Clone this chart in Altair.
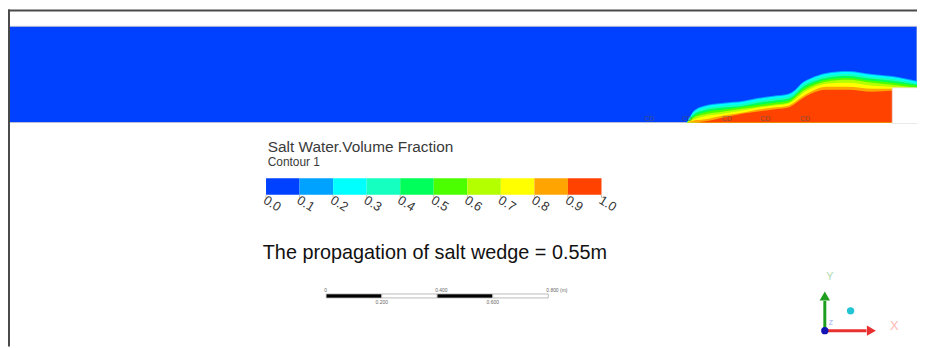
import altair as alt
import pandas as pd

# ------------------------------------------------------------------ data
band_ids = [0, 1, 2, 3, 4, 5, 6, 7, 8, 9]
band_colors = ["#0040ff", "#00a2ff", "#00ffff", "#14ffc0", "#00ff5a",
               "#4cff00", "#b4ff00", "#ffff00", "#ffa400", "#ff4200"]
level_values = [0.0, 0.1, 0.2, 0.3, 0.4, 0.5, 0.6, 0.7, 0.8, 0.9, 1.0]
level_labels = ["0.0", "0.1", "0.2", "0.3", "0.4", "0.5",
                "0.6", "0.7", "0.8", "0.9", "1.0"]

legend_title = "Salt Water.Volume Fraction"
legend_sub = "Contour 1"
caption = "The propagation of salt wedge = 0.55m"

# tank geometry (grid units)
tank_length = 920
tank_depth = 97
notch_x = [895, 920]
notch_h = [0, 35]

# salt wedge contour heights along the tank (one list per contour level)
wedge_x = [688, 695, 705, 725, 745, 760, 775, 790, 797, 804, 813, 828, 850, 875, 895, 920]
wedge_h = {
    1: [0, 12, 17, 20, 22, 25, 27, 29, 33, 40, 45, 50, 52, 49, 47, 42],
    2: [0, 11, 16, 19, 21, 24, 26, 28, 32, 39, 44, 49, 51, 48, 46, 41],
    3: [0, 9, 14, 17, 19, 22, 24, 26, 30, 37, 42, 47, 49, 46, 44, 39],
    4: [0, 8, 12, 15, 17, 20, 22, 24, 28, 35, 40, 45, 47, 44, 42, 38],
    5: [0, 6, 10, 13, 16, 18, 20, 22, 27, 33, 38, 43, 45, 42, 40, 37],
    6: [0, 5, 8, 11, 14, 16, 18, 20, 25, 31, 36, 41, 43, 40, 38, 35],
    7: [0, 3, 6, 9, 12, 15, 17, 19, 23, 29, 34, 39, 40, 37, 36, 34],
    8: [0, 2, 3, 7, 10, 13, 15, 17, 21, 26, 31, 36, 36, 34, 34, 32],
    9: [0, 0, 1, 5, 9, 11, 13, 15, 19, 24, 29, 33, 33, 31, 32, 30],
}

probe_x = [650, 688, 728, 767, 807]
probe_h = [3.5, 3.5, 3.5, 3.5, 3.5]

# scale bar (m)
sb_edges = [0.0, 0.2, 0.4, 0.6, 0.8]
sb_fill = ["#000000", "#ffffff", "#000000", "#ffffff"]
sb_top_pos = [0.0, 0.4, 0.8]
sb_top_lab = ["0", "0.400", "0.800 (m)"]
sb_bot_pos = [0.2, 0.6]
sb_bot_lab = ["0.200", "0.600"]

# ------------------------------------------------------------------ scales
FONT = "Liberation Sans"
COLOR = alt.Scale(domain=band_ids, range=band_colors)
X_TANK = alt.Scale(domain=[0, tank_length], range=[-3, 917])
Y_TANK = alt.Scale(domain=[0, tank_depth], range=[114, 17])
X_CB = alt.Scale(domain=[0, 1], range=[260.3, 598.7])
X_CB_LAB = alt.Scale(domain=[0, 1], range=[266.5, 604.9])
X_SB = alt.Scale(domain=[0, 0.8], range=[321, 545])

one = pd.DataFrame({"v": [0]})
layers = []

# tank (fresh water background)
tank_df = pd.DataFrame({"x0": [0], "x1": [tank_length], "y0": [0],
                        "y1": [tank_depth], "band": [0]})
layers.append(alt.Chart(tank_df).mark_rect(stroke="#b8bed6", strokeWidth=1).encode(
    x=alt.X("x0:Q", scale=X_TANK, axis=None), x2="x1:Q",
    y=alt.Y("y0:Q", scale=Y_TANK, axis=None), y2="y1:Q",
    color=alt.Color("band:O", scale=COLOR, legend=None)))

# salt wedge contour bands
for k in range(1, 10):
    df = pd.DataFrame({"x": wedge_x, "h": wedge_h[k], "band": [k] * len(wedge_x)})
    layers.append(alt.Chart(df).mark_area(interpolate="monotone").encode(
        x=alt.X("x:Q", scale=X_TANK, axis=None),
        y=alt.Y("h:Q", scale=Y_TANK, axis=None, stack=None),
        color=alt.Color("band:O", scale=COLOR, legend=None)))

# step (outside domain)
notch_df = pd.DataFrame({"x0": [notch_x[0]], "x1": [notch_x[1] + 5],
                         "y0": [notch_h[0] - 1], "y1": [notch_h[1]]})
layers.append(alt.Chart(notch_df).mark_rect(color="white", stroke="#d8d8d8", strokeWidth=0.6).encode(
    x=alt.X("x0:Q", scale=X_TANK, axis=None), x2="x1:Q",
    y=alt.Y("y0:Q", scale=Y_TANK, axis=None), y2="y1:Q"))

# probe labels
probe_df = pd.DataFrame({"x": probe_x, "h": probe_h, "t": ["CD"] * len(probe_x)})
layers.append(alt.Chart(probe_df).mark_text(font=FONT, fontSize=7, color="#555555",
                                            opacity=0.75).encode(
    x=alt.X("x:Q", scale=X_TANK, axis=None),
    y=alt.Y("h:Q", scale=Y_TANK, axis=None), text="t:N"))

# frame
layers.append(alt.Chart(one).mark_rule(color="#4a4a4a", strokeWidth=2).encode(
    x=alt.value(1), y=alt.value(0), y2=alt.value(340)))
layers.append(alt.Chart(one).mark_rule(color="#4a4a4a", strokeWidth=2).encode(
    x=alt.value(0), x2=alt.value(917), y=alt.value(1)))

# legend title
layers.append(alt.Chart(pd.DataFrame({"t": [legend_title]})).mark_text(
    font=FONT, fontSize=15.5, color="#3a3a3a", align="left", baseline="alphabetic").encode(
    x=alt.value(262), y=alt.value(144), text="t:N"))
layers.append(alt.Chart(pd.DataFrame({"t": [legend_sub]})).mark_text(
    font=FONT, fontSize=12, color="#3a3a3a", align="left", baseline="alphabetic").encode(
    x=alt.value(262), y=alt.value(158), text="t:N"))

# colour bar
cb_df = pd.DataFrame({"lo": level_values[:-1], "hi": level_values[1:], "band": band_ids})
layers.append(alt.Chart(cb_df).mark_rect().encode(
    x=alt.X("lo:Q", scale=X_CB, axis=None), x2="hi:Q",
    y=alt.value(170.3), y2=alt.value(187),
    color=alt.Color("band:O", scale=COLOR, legend=None)))
lab_df = pd.DataFrame({"v": level_values, "t": level_labels})
layers.append(alt.Chart(lab_df).mark_rule(color="#bbbbbb", strokeWidth=1).encode(
    x=alt.X("v:Q", scale=X_CB, axis=None), y=alt.value(187), y2=alt.value(190)))
layers.append(alt.Chart(lab_df).mark_text(font=FONT, fontSize=13, angle=32, color="#333333",
                                          align="center", baseline="middle").encode(
    x=alt.X("v:Q", scale=X_CB_LAB, axis=None), y=alt.value(196), text="t:N"))

# caption
layers.append(alt.Chart(pd.DataFrame({"t": [caption]})).mark_text(
    font=FONT, fontSize=20, color="#111111", align="left", baseline="alphabetic").encode(
    x=alt.value(257), y=alt.value(252), text="t:N"))

# scale bar
sb_df = pd.DataFrame({"lo": sb_edges[:-1], "hi": sb_edges[1:], "f": sb_fill})
layers.append(alt.Chart(sb_df).mark_rect(stroke="#aaaaaa", strokeWidth=0.8).encode(
    x=alt.X("lo:Q", scale=X_SB, axis=None), x2="hi:Q",
    y=alt.value(287), y2=alt.value(291),
    fill=alt.Fill("f:N", scale=None)))
layers.append(alt.Chart(pd.DataFrame({"v": sb_top_pos, "t": sb_top_lab})).mark_text(
    font=FONT, fontSize=5, color="#666666", align="left", dx=-2, baseline="middle").encode(
    x=alt.X("v:Q", scale=X_SB, axis=None), y=alt.value(283.5), text="t:N"))
layers.append(alt.Chart(pd.DataFrame({"v": sb_bot_pos, "t": sb_bot_lab})).mark_text(
    font=FONT, fontSize=5, color="#666666", align="center", baseline="middle").encode(
    x=alt.X("v:Q", scale=X_SB, axis=None), y=alt.value(295.5), text="t:N"))

# axis triad
layers.append(alt.Chart(one).mark_rule(color="#1e9e1e", strokeWidth=3).encode(
    x=alt.value(824), y=alt.value(294), y2=alt.value(324)))
layers.append(alt.Chart(one).mark_point(shape="triangle-up", filled=True, size=110,
                                        color="#1e9e1e", opacity=1).encode(
    x=alt.value(824), y=alt.value(289)))
layers.append(alt.Chart(one).mark_rule(color="#e83030", strokeWidth=3).encode(
    x=alt.value(824), x2=alt.value(866), y=alt.value(324)))
layers.append(alt.Chart(one).mark_point(shape="triangle-right", filled=True, size=110,
                                        color="#e83030", opacity=1).encode(
    x=alt.value(871), y=alt.value(324)))
layers.append(alt.Chart(one).mark_point(shape="circle", filled=True, size=55,
                                        color="#1414b4", opacity=1).encode(
    x=alt.value(824), y=alt.value(324)))
layers.append(alt.Chart(one).mark_point(shape="circle", filled=True, size=55,
                                        color="#22c4d4", opacity=1).encode(
    x=alt.value(850), y=alt.value(304)))
for t, xx, yy, c, fs in [("Y", 829, 269.5, "#b0dcb0", 11),
                         ("X", 894, 319, "#ffb8b8", 13),
                         ("Z", 830, 316, "#9aa8f0", 7)]:
    layers.append(alt.Chart(pd.DataFrame({"t": [t]})).mark_text(
        font=FONT, fontSize=fs, color=c, align="center", baseline="middle").encode(
        x=alt.value(xx), y=alt.value(yy), text="t:N"))

chart = alt.layer(*layers).resolve_scale(x="independent", y="independent").properties(
    width=917, height=340, autosize=alt.AutoSizeParams(type="none"), padding=0,
    background="white"
).configure_view(strokeWidth=0)

chart.save("out.html", embed_options={"renderer": "svg", "actions": False})
